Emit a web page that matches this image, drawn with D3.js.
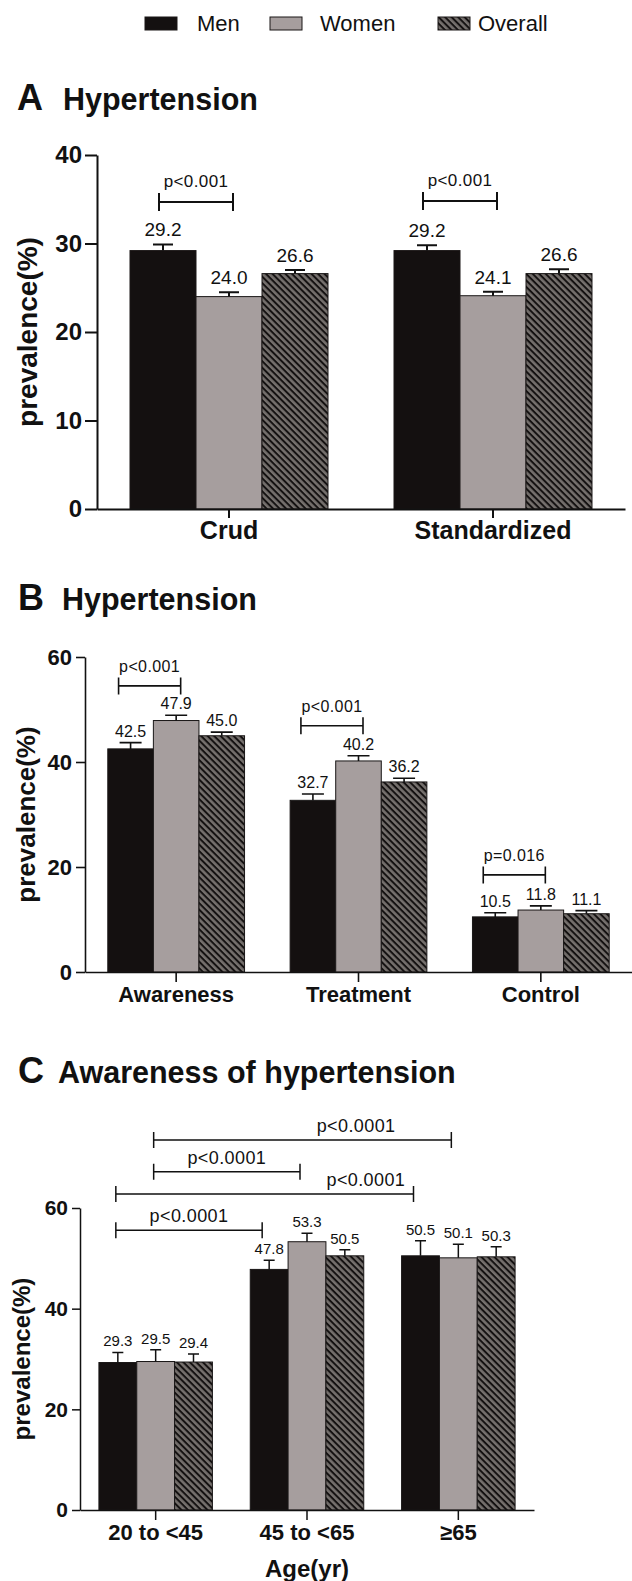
<!DOCTYPE html>
<meta charset="utf-8">
<style>
  body { margin: 0; background: #fff; }
  text { font-family: "Liberation Sans", Arial, Helvetica, sans-serif; fill: #111; }
</style>
<body>
<script src="https://cdn.jsdelivr.net/npm/d3@7/dist/d3.min.js"></script>
<script>

    var width = 632,
        height = 1581;

    var series = ["Men", "Women", "Overall"];

    // panel A
    var catsA = ["Crud", "Standardized"];
    var menA = [29.2, 29.2];
    var womenA = [24.0, 24.1];
    var allA = [26.6, 26.6];
    var errMenA = [0.7, 0.6];
    var errWomenA = [0.5, 0.45];
    var errAllA = [0.4, 0.5];
    var ticksA = [0, 10, 20, 30, 40];
    var pCatA = ["Crud", "Standardized"];
    var pYA = [34.7, 34.8];
    var pLabelA = ["p<0.001", "p<0.001"];

    // panel B
    var catsB = ["Awareness", "Treatment", "Control"];
    var menB = [42.5, 32.7, 10.5];
    var womenB = [47.9, 40.2, 11.8];
    var allB = [45.0, 36.2, 11.1];
    var errMenB = [1.2, 1.2, 0.8];
    var errWomenB = [1.0, 1.0, 0.8];
    var errAllB = [0.7, 0.7, 0.6];
    var ticksB = [0, 20, 40, 60];
    var pCatB = ["Awareness", "Treatment", "Control"];
    var pYB = [54.5, 46.9, 18.5];
    var pLabelB = ["p<0.001", "p<0.001", "p=0.016"];

    // panel C
    var catsC = ["20 to <45", "45 to <65", "≥65"];
    var menC = [29.3, 47.8, 50.5];
    var womenC = [29.5, 53.3, 50.1];
    var allC = [29.4, 50.5, 50.3];
    var errMenC = [2.0, 1.8, 3.0];
    var errWomenC = [2.35, 1.7, 2.7];
    var errAllC = [1.6, 1.2, 2.0];
    var ticksC = [0, 20, 40, 60];
    var pFromC = ["20 to <45", "20 to <45", "20 to <45", "20 to <45"];
    var pToC = ["≥65", "45 to <65", "≥65", "45 to <65"];
    var pSerC = ["Women", "Women", "Men", "Men"];
    var pYC = [73.5, 67.2, 62.8, 55.6];
    var pLabelC = ["p<0.0001", "p<0.0001", "p<0.0001", "p<0.0001"];
    var pAtC = [0.68, 0.5, 0.84, 0.5];

    var svg = d3.select("body").append("svg")
            .attr("width", width)
            .attr("height", height);

    // hatch for Overall
    var pat = svg.append("defs").append("pattern")
            .attr("id", "hatch")
            .attr("patternUnits", "userSpaceOnUse")
            .attr("width", 4.6).attr("height", 4.6)
            .attr("patternTransform", "rotate(45)");
    pat.append("rect").attr("width", 4.6).attr("height", 4.6).attr("fill", "#75706d");
    pat.append("rect").attr("width", 4.6).attr("height", 2).attr("fill", "#141111");

    var fills = {Men: "#141010", Women: "#a69e9e", Overall: "url(#hatch)"};

    // legend
    var legX = [145, 270, 438], legTextX = [197, 320, 478];
    series.forEach(function(s, i) {
        svg.append("rect").attr("x", legX[i]).attr("y", 17).attr("width", 32).attr("height", 13)
            .attr("fill", fills[s]).attr("stroke", "#1a1717").attr("stroke-width", 1);
        svg.append("text").attr("x", legTextX[i]).attr("y", 30.5).attr("font-size", 22).text(s);
    });

    function drawPanel(p) {
        var g = svg.append("g");
        var x = d3.scaleBand().domain(p.cats).range([p.left, p.right])
                .paddingInner(0.25).paddingOuter(0.125);
        var xs = d3.scaleBand().domain(series).range([0, x.bandwidth()]);
        var y = d3.scaleLinear().domain([0, p.max]).range([p.bottom, p.top]);

        g.append("text").attr("x", p.letterX).attr("y", p.titleY)
            .attr("font-size", 36).attr("font-weight", "bold").text(p.letter);
        g.append("text").attr("x", p.titleX).attr("y", p.titleY)
            .attr("font-size", 30.5).attr("font-weight", "bold").text(p.title);

        var rows = [];
        p.cats.forEach(function(c, i) {
            series.forEach(function(s, j) {
                rows.push({cat: c, ser: s, v: p.values[j][i], e: p.errors[j][i]});
            });
        });
        function cx(cat, ser) { return x(cat) + xs(ser) + xs.bandwidth() / 2; }

        g.selectAll(".bar").data(rows).enter().append("rect")
            .attr("x", function(d) { return x(d.cat) + xs(d.ser); })
            .attr("y", function(d) { return y(d.v); })
            .attr("width", xs.bandwidth())
            .attr("height", function(d) { return y(0) - y(d.v); })
            .attr("fill", function(d) { return fills[d.ser]; })
            .attr("stroke", "#1a1717").attr("stroke-width", 1);

        // error bars (upper only)
        g.selectAll(".err").data(rows).enter().append("path")
            .attr("d", function(d) {
                var c = cx(d.cat, d.ser), y1 = y(d.v), y2 = y(d.v + d.e);
                return "M" + c + "," + y1 + "V" + y2 + "M" + (c - p.capW / 2) + "," + y2 + "H" + (c + p.capW / 2);
            })
            .attr("fill", "none").attr("stroke", "#111").attr("stroke-width", p.errW);

        g.selectAll(".val").data(rows).enter().append("text")
            .attr("x", function(d) { return cx(d.cat, d.ser); })
            .attr("y", function(d) { return y(d.v + d.e) - p.valGap; })
            .attr("text-anchor", "middle").attr("font-size", p.valFont)
            .text(function(d) { return d.v.toFixed(1); });

        // axes
        var ya = g.append("g").attr("transform", "translate(" + p.left + ",0)")
            .call(d3.axisLeft(y).tickValues(p.ticks).tickSize(p.tickLen).tickSizeOuter(0).tickPadding(p.tickPad));
        ya.selectAll("path, line").attr("stroke", "#111").attr("stroke-width", p.axisW);
        ya.selectAll("text").attr("font-size", p.tickFont).attr("font-weight", "bold").attr("fill", "#111");

        var xa = g.append("g").attr("transform", "translate(0," + p.bottom + ")")
            .call(d3.axisBottom(x).tickSize(p.xTick).tickSizeOuter(0));
        xa.selectAll("path, line").attr("stroke", "#111").attr("stroke-width", p.axisW);
        xa.selectAll("text").attr("font-size", p.catFont).attr("font-weight", "bold")
            .attr("dy", 0).attr("y", p.catY).attr("fill", "#111");

        g.append("text")
            .attr("transform", "translate(" + p.ytX + "," + (p.bottom + p.top) / 2 + ") rotate(-90)")
            .attr("text-anchor", "middle").attr("font-size", p.ytFont).attr("font-weight", "bold")
            .text("prevalence(%)");

        if (p.xTitle) {
            g.append("text").attr("x", (p.left + p.right) / 2).attr("y", p.xTitleY)
                .attr("text-anchor", "middle").attr("font-size", 24).attr("font-weight", "bold")
                .text(p.xTitle);
        }

        // significance brackets
        p.brackets.forEach(function(b) {
            var x1 = cx(b.c1, b.s1) + p.nudgeL, x2 = cx(b.c2, b.s2) + p.nudgeR, yy = y(b.y);
            g.append("path")
                .attr("d", "M" + x1 + "," + (yy - p.pH) + "V" + (yy + p.pH) +
                           "M" + x1 + "," + yy + "H" + x2 +
                           "M" + x2 + "," + (yy - p.pH) + "V" + (yy + p.pH))
                .attr("fill", "none").attr("stroke", "#111").attr("stroke-width", p.errW);
            g.append("text").attr("x", x1 + (x2 - x1) * b.at).attr("y", yy - p.pGap)
                .attr("text-anchor", "middle").attr("font-size", p.pFont)
                .attr("letter-spacing", 0.4).text(b.label);
        });
    }

    drawPanel({
        letter: "A", title: "Hypertension", letterX: 17, titleX: 63, titleY: 110,
        cats: catsA, values: [menA, womenA, allA], errors: [errMenA, errWomenA, errAllA],
        ticks: ticksA, max: 40, left: 97, right: 625, bottom: 509, top: 155,
        tickLen: 12, tickPad: 3, tickFont: 24, axisW: 2, xTick: 9, catFont: 25, catY: 30,
        ytX: 37, ytFont: 28, valFont: 19, valGap: 8, capW: 20, errW: 2,
        pFont: 17, pGap: 15, pH: 9, nudgeL: -4, nudgeR: 4,
        brackets: pCatA.map(function(c, i) {
            return {c1: c, s1: "Men", c2: c, s2: "Women", y: pYA[i], label: pLabelA[i], at: 0.5};
        })
    });

    drawPanel({
        letter: "B", title: "Hypertension", letterX: 18, titleX: 62, titleY: 610,
        cats: catsB, values: [menB, womenB, allB], errors: [errMenB, errWomenB, errAllB],
        ticks: ticksB, max: 60, left: 85, right: 632, bottom: 972, top: 657,
        tickLen: 9, tickPad: 4, tickFont: 22, axisW: 1.6, xTick: 10, catFont: 22, catY: 30,
        ytX: 34.5, ytFont: 26, valFont: 16, valGap: 6, capW: 22, errW: 1.6,
        pFont: 16, pGap: 14, pH: 8.5, nudgeL: -12, nudgeR: 4.5,
        brackets: pCatB.map(function(c, i) {
            return {c1: c, s1: "Men", c2: c, s2: "Women", y: pYB[i], label: pLabelB[i], at: 0.5};
        })
    });

    drawPanel({
        letter: "C", title: "Awareness of hypertension", letterX: 18, titleX: 58, titleY: 1083,
        cats: catsC, values: [menC, womenC, allC], errors: [errMenC, errWomenC, errAllC],
        ticks: ticksC, max: 60, left: 80, right: 534, bottom: 1510, top: 1208,
        tickLen: 8, tickPad: 4, tickFont: 21, axisW: 1.5, xTick: 10, catFont: 22, catY: 30,
        ytX: 30, ytFont: 24, valFont: 15, valGap: 6, capW: 11, errW: 1.5,
        pFont: 18, pGap: 8, pH: 8, nudgeL: -2, nudgeR: -7,
        xTitle: "Age(yr)", xTitleY: 1577,
        brackets: pFromC.map(function(c, i) {
            return {c1: c, s1: pSerC[i], c2: pToC[i], s2: pSerC[i], y: pYC[i], label: pLabelC[i], at: pAtC[i]};
        })
    });

</script>
